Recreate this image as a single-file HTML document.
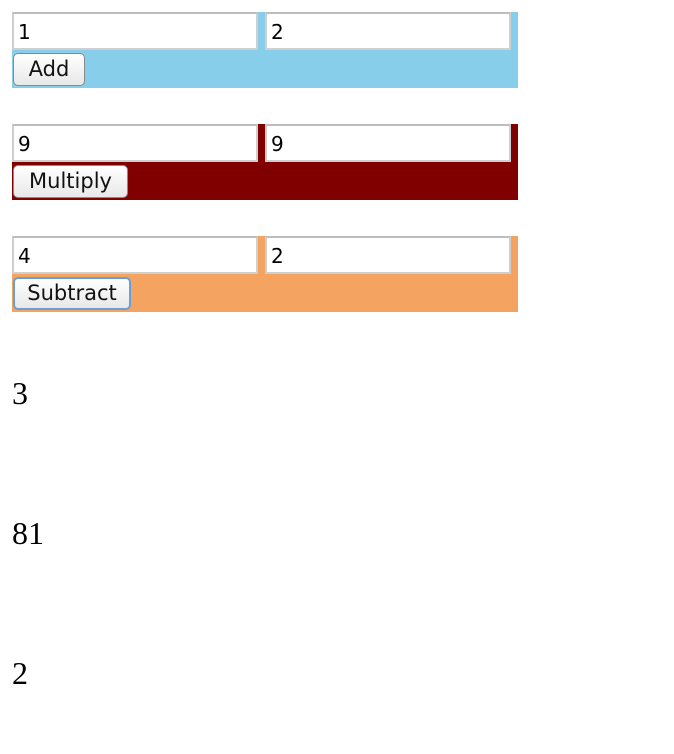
<!DOCTYPE html>
<html><head><style>
body{margin:0;width:674px;height:754px;background:#fff;position:relative;font-family:"DejaVu Sans","Liberation Sans",sans-serif;}
.p{position:absolute;left:12px;width:506px;height:76px;}
.in{position:absolute;top:0;width:246px;height:38px;box-sizing:border-box;background:#fff;border:2px solid #cfcfcf;border-top-color:#bdbdbd;font-size:20px;line-height:22px;padding:7px 0 0 4px;color:#000;}
.b{position:absolute;left:1px;top:41px;height:33px;box-sizing:border-box;border:1px solid #8a8a8a;border-radius:5px;background:linear-gradient(#fff,#e8e8e8);font-size:21px;line-height:24px;padding-top:3px;text-align:center;color:#111;}
.t{position:absolute;left:12px;font-family:"Liberation Serif",serif;font-size:32px;line-height:1;}
</style></head><body>
<div class="p" style="top:12px;background:#87ceeb">
<div class="in" style="left:0">1</div><div class="in" style="left:253px">2</div><div class="b" style="width:72px">Add</div></div>
<div class="p" style="top:124px;background:#800000">
<div class="in" style="left:0">9</div><div class="in" style="left:253px">9</div><div class="b" style="width:115px">Multiply</div></div>
<div class="p" style="top:236px;background:#f4a460">
<div class="in" style="left:0">4</div><div class="in" style="left:253px">2</div><div class="b" style="width:118px;border:2px solid #6a9fd4;padding-top:2px">Subtract</div></div>
<div class="t" style="top:377px">3</div>
<div class="t" style="top:517px">81</div>
<div class="t" style="top:657px">2</div>
</body></html>
